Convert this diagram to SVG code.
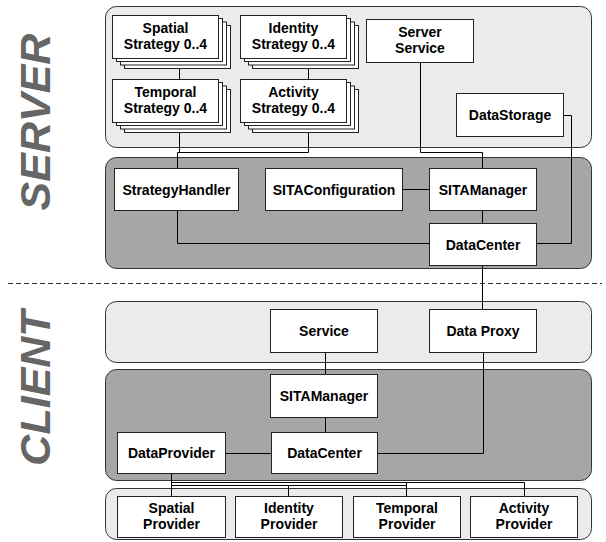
<svg xmlns="http://www.w3.org/2000/svg" width="606" height="542" viewBox="0 0 606 542">
<defs>
<style>
.bg{fill:#fff}
.pl{fill:#ebebeb;stroke:#333;stroke-width:1}
.pd{fill:#a6a6a6;stroke:#333;stroke-width:1}
.bx{fill:#fff;stroke:#222;stroke-width:1}
.t{font-family:"Liberation Sans",Arial,Helvetica,sans-serif;font-weight:bold;font-size:14px;fill:#000;text-anchor:middle}
.big{font-family:"Liberation Sans",Arial,Helvetica,sans-serif;font-weight:bold;font-style:italic;font-size:43px;fill:#666;text-anchor:middle}
.c{fill:none;stroke:#000;stroke-width:1}
.dash{fill:none;stroke:#333;stroke-width:1;stroke-dasharray:5,3}
</style>
</defs>
<rect class="bg" x="0" y="0" width="606" height="542"/>
<text class="big" transform="translate(50,122) rotate(-90)">SERVER</text>
<text class="big" transform="translate(50,388) rotate(-90)">CLIENT</text>
<line class="dash" x1="8" y1="283.5" x2="602" y2="283.5"/>
<g id="panels">
<rect class="pl" x="105.5" y="6.5" width="486" height="141" rx="11"/>
<rect class="pd" x="105.5" y="157.5" width="486" height="111" rx="11"/>
<rect class="pl" x="105.5" y="301.5" width="486" height="61" rx="11"/>
<rect class="pd" x="105.5" y="369.5" width="486" height="111" rx="11"/>
<rect class="pl" x="105.5" y="488.5" width="486" height="51" rx="11"/>
</g>
<g id="connectors">
<path class="c" d="M179.5 69 V79"/>
<path class="c" d="M308.5 69 V79"/>
<path class="c" d="M179.5 133 V152.5 M308.5 133 V152.5 M177.5 152.5 H308.5 M177.5 152.5 V168"/>
<path class="c" d="M420.5 62 V152.5 H482.5 V168"/>
<path class="c" d="M402 189.5 H429"/>
<path class="c" d="M482.5 211 V223"/>
<path class="c" d="M563 115.5 H571.5 V243.5 H536"/>
<path class="c" d="M177.5 210 V243.5 H429"/>
<path class="c" d="M482.5 265 V309"/>
<path class="c" d="M325.5 352 V374"/>
<path class="c" d="M325.5 417 V432"/>
<path class="c" d="M225 453.5 H271"/>
<path class="c" d="M377 453.5 H483.5 V352"/>
<path class="c" d="M171.5 473 V496 M171.5 482.5 H524.5 V496 M406.5 482.5 V496 M171.5 485.5 H406.5 M288.5 485.5 V496"/>
</g>
<g id="spatial-strategy">
<rect class="bx" x="124.5" y="25.5" width="106" height="43"/>
<rect class="bx" x="120.5" y="22" width="106" height="43"/>
<rect class="bx" x="116.5" y="18.5" width="106" height="43"/>
<rect class="bx" x="112.5" y="15.5" width="106" height="43"/>
<text class="t" x="165.5" y="33">Spatial</text>
<text class="t" x="165.5" y="49">Strategy 0..4</text>
</g>
<g id="identity-strategy">
<rect class="bx" x="252.5" y="25.5" width="106" height="43"/>
<rect class="bx" x="248.5" y="22" width="106" height="43"/>
<rect class="bx" x="244.5" y="18.5" width="106" height="43"/>
<rect class="bx" x="240.5" y="15.5" width="106" height="43"/>
<text class="t" x="293.5" y="33">Identity</text>
<text class="t" x="293.5" y="49">Strategy 0..4</text>
</g>
<g id="temporal-strategy">
<rect class="bx" x="124.5" y="89.5" width="106" height="43"/>
<rect class="bx" x="120.5" y="86" width="106" height="43"/>
<rect class="bx" x="116.5" y="82.5" width="106" height="43"/>
<rect class="bx" x="112.5" y="79.5" width="106" height="43"/>
<text class="t" x="165.5" y="97">Temporal</text>
<text class="t" x="165.5" y="113">Strategy 0..4</text>
</g>
<g id="activity-strategy">
<rect class="bx" x="252.5" y="89.5" width="106" height="43"/>
<rect class="bx" x="248.5" y="86" width="106" height="43"/>
<rect class="bx" x="244.5" y="82.5" width="106" height="43"/>
<rect class="bx" x="240.5" y="79.5" width="106" height="43"/>
<text class="t" x="293.5" y="97">Activity</text>
<text class="t" x="293.5" y="113">Strategy 0..4</text>
</g>
<g id="server-service">
<rect class="bx" x="366.5" y="19.5" width="107" height="43"/>
<text class="t" x="420" y="37">Server</text>
<text class="t" x="420" y="53">Service</text>
</g>
<g id="data-storage">
<rect class="bx" x="456.5" y="93.5" width="107" height="43"/>
<text class="t" x="510" y="120">DataStorage</text>
</g>
<g id="strategy-handler">
<rect class="bx" x="114.5" y="168.5" width="124" height="42"/>
<text class="t" x="176.5" y="194.5">StrategyHandler</text>
</g>
<g id="sita-configuration">
<rect class="bx" x="265.5" y="168.5" width="137" height="42"/>
<text class="t" x="334" y="194.5">SITAConfiguration</text>
</g>
<g id="server-sita-manager">
<rect class="bx" x="429.5" y="168.5" width="107" height="42"/>
<text class="t" x="483" y="194.5">SITAManager</text>
</g>
<g id="server-data-center">
<rect class="bx" x="429.5" y="223.5" width="107" height="42"/>
<text class="t" x="483" y="249.5">DataCenter</text>
</g>
<g id="service">
<rect class="bx" x="270.5" y="309.5" width="107" height="43"/>
<text class="t" x="324" y="336">Service</text>
</g>
<g id="data-proxy">
<rect class="bx" x="429.5" y="309.5" width="107" height="43"/>
<text class="t" x="483" y="336">Data Proxy</text>
</g>
<g id="client-sita-manager">
<rect class="bx" x="270.5" y="374.5" width="107" height="43"/>
<text class="t" x="324" y="401">SITAManager</text>
</g>
<g id="data-provider">
<rect class="bx" x="117.5" y="432.5" width="108" height="41"/>
<text class="t" x="171.5" y="458">DataProvider</text>
</g>
<g id="client-data-center">
<rect class="bx" x="271.5" y="432.5" width="106" height="41"/>
<text class="t" x="324.5" y="458">DataCenter</text>
</g>
<g id="spatial-provider">
<rect class="bx" x="117.5" y="496.5" width="108" height="41"/>
<text class="t" x="171.5" y="513">Spatial</text>
<text class="t" x="171.5" y="529">Provider</text>
</g>
<g id="identity-provider">
<rect class="bx" x="235.5" y="496.5" width="107" height="41"/>
<text class="t" x="289" y="513">Identity</text>
<text class="t" x="289" y="529">Provider</text>
</g>
<g id="temporal-provider">
<rect class="bx" x="353.5" y="496.5" width="107" height="41"/>
<text class="t" x="407" y="513">Temporal</text>
<text class="t" x="407" y="529">Provider</text>
</g>
<g id="activity-provider">
<rect class="bx" x="470.5" y="496.5" width="107" height="41"/>
<text class="t" x="524" y="513">Activity</text>
<text class="t" x="524" y="529">Provider</text>
</g>
</svg>
